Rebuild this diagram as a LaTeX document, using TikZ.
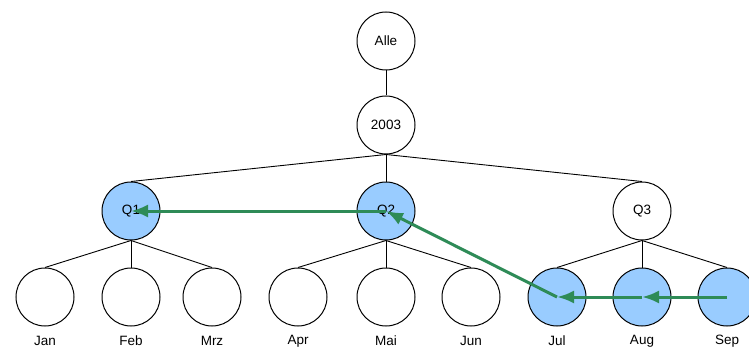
\documentclass[tikz,border=0pt]{standalone}
\usepackage{fontspec}
\setmainfont{Liberation Sans}
\usetikzlibrary{arrows.meta}
\definecolor{nodeblue}{RGB}{153,204,255}
\definecolor{pathgreen}{RGB}{46,139,87}
\begin{document}
\begin{tikzpicture}[x=1pt,y=-1pt,
  tnode/.style={circle,draw=black,line width=1pt,minimum size=58pt,inner sep=0pt,font=\fontsize{13.5}{15}\selectfont},
  hl/.style={fill=nodeblue},
  edge/.style={draw=black,line width=0.9pt},
  walk/.style={draw=pathgreen,line width=3pt,-{Latex[length=17pt,width=13pt]}},
  mlabel/.style={font=\fontsize{13.5}{15}\selectfont}]
\useasboundingbox (0,0) rectangle (749,350);
\fill[white] (0,0) rectangle (749,350);

% hierarchy nodes
\node[tnode] (alle) at (386,41) {Alle};
\node[tnode] (y2003) at (386,125) {2003};
\node[tnode,hl] (q1) at (131,211) {Q1};
\node[tnode,hl] (q2) at (386,211) {Q2};
\node[tnode] (q3) at (642,211) {Q3};

\foreach \n/\x/\f in {jan/45/0,feb/131/0,mrz/212/0,apr/298/0,mai/386/0,jun/471/0,jul/557/1,aug/642/1,sep/727/1}{
  \ifnum\f=1
    \node[tnode,hl] (\n) at (\x,297) {};
  \else
    \node[tnode] (\n) at (\x,297) {};
  \fi
}

% month labels
\node[mlabel] (ljan) at (45,341) {Jan};
\node[mlabel] (lfeb) at (131,341) {Feb};
\node[mlabel] (lmrz) at (212,341) {Mrz};
\node[mlabel] (lapr) at (298,341) {Apr};
\node[mlabel] (lmai) at (386,341) {Mai};
\node[mlabel] (ljun) at (471,341) {Jun};
\node[mlabel] (ljul) at (557,341) {Jul};
\node[mlabel] (laug) at (642,341) {Aug};
\node[mlabel] (lsep) at (727,341) {Sep};

% tree edges
\draw[edge] (alle.south) -- (y2003.north);
\foreach \c in {q1,q2,q3} \draw[edge] (y2003.south) -- (\c.north);
\foreach \c in {jan,feb,mrz} \draw[edge] (q1.south) -- (\c.north);
\foreach \c in {apr,mai,jun} \draw[edge] (q2.south) -- (\c.north);
\foreach \c in {jul,aug,sep} \draw[edge] (q3.south) -- (\c.north);

% aggregation path
\draw[walk] (sep.center) -- (aug.center);
\draw[walk] (aug.center) -- (jul.center);
\draw[walk] (jul.center) -- (q2.center);
\draw[walk] (q2.center) -- (q1.center);
\end{tikzpicture}
\end{document}
